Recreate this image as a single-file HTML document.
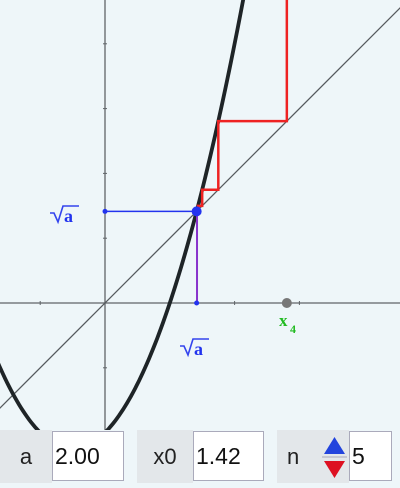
<!DOCTYPE html>
<html><head><meta charset="utf-8"><style>
body{margin:0;width:400px;height:488px;background:#eef6f9;overflow:hidden;font-family:"Liberation Sans",sans-serif;position:relative}
svg{position:absolute;left:0;top:0}
.lbl{position:absolute;top:430px;height:53px;background:#e3e7ea;font-size:22px;color:#222;display:flex;align-items:center;justify-content:center}
.inp{position:absolute;top:431px;height:50px;background:#fff;border:1px solid #aab;box-sizing:border-box;font-size:23px;color:#111;display:flex;align-items:center;padding-left:2px}
</style></head><body>
<svg width="400" height="430" id="chart"></svg>
<div class="lbl" style="left:0;width:52px">a</div>
<div class="inp" style="left:52px;width:72px">2.00</div>
<div class="lbl" style="left:137px;width:56px">x0</div>
<div class="inp" style="left:193px;width:71px">1.42</div>
<div class="lbl" style="left:277px;width:72px;justify-content:flex-start;padding-left:10px;box-sizing:border-box">n</div>
<svg style="left:320px;top:432px" width="29" height="50">
<rect x="0" y="0" width="29" height="50" fill="#e3e7ea"/>
<polygon points="4,22 25,22 14.5,5" fill="#2244dd"/>
<line x1="2" y1="25" x2="27" y2="25" stroke="#aab"/>
<polygon points="4,29 25,29 14.5,46" fill="#dd1122"/>
</svg>
<div class="inp" style="left:349px;width:43px">5</div>
<script>
const a=2.0, x0=1.42, n=5;
const xTicks=[-1,2,3], yTicks=[1,2,3,4,-1];
const S=64.8, OX=105, OY=303;
const X=v=>OX+v*S, Y=v=>OY-v*S;
const f=x=>x*x+x-a;
const svg=document.getElementById('chart');
const NS='http://www.w3.org/2000/svg';
function el(t,at){const e=document.createElementNS(NS,t);for(const k in at)e.setAttribute(k,at[k]);svg.appendChild(e);return e;}
let e;
e=el('line',{x1:0,y1:OY,x2:400,y2:OY,stroke:'#606468','stroke-width':1.3});


e=el('line',{x1:OX,y1:0,x2:OX,y2:430,stroke:'#606468','stroke-width':1.3});


xTicks.forEach(t=>{e=el('line',{x1:X(t),y1:OY-2,x2:X(t),y2:OY+2,stroke:'#606468'});

});
yTicks.forEach(t=>{e=el('line',{x1:OX-2,y1:Y(t),x2:OX+2,y2:Y(t),stroke:'#606468'});

});
e=el('line',{x1:X(-2),y1:Y(-2),x2:X(5),y2:Y(5),stroke:'#555a5e','stroke-width':1.3});


let d='';for(let px=-5;px<=405;px+=2){const x=(px-OX)/S;d+=(d?'L':'M')+px+','+Y(f(x)).toFixed(1);}
e=el('path',{d:d,fill:'none',stroke:'#1e2427','stroke-width':3.8});


const r=Math.sqrt(a);
e=el('line',{x1:OX,y1:Y(r),x2:X(r),y2:Y(r),stroke:'#2233ee','stroke-width':1.5});


e=el('circle',{cx:OX,cy:Y(r),r:2.5,fill:'#2233ee'});


e=el('line',{x1:X(x0),y1:OY,x2:X(x0),y2:Y(f(x0)),stroke:'#8833cc','stroke-width':2});


e=el('circle',{cx:X(r),cy:OY,r:2.5,fill:'#2233ee'});


let xs=[x0];for(let i=0;i<n;i++)xs.push(f(xs[i]));
let p='M'+X(xs[0])+','+Y(xs[1]);
for(let i=1;i<n;i++){p+='L'+X(xs[i])+','+Y(xs[i])+'L'+X(xs[i])+','+Y(xs[i+1]);}
e=el('path',{d:p,fill:'none',stroke:'#ee2222','stroke-width':2.5});


e=el('circle',{cx:X(r),cy:Y(r),r:5,fill:'#2233ee'});


e=el('circle',{cx:X(xs[n-1]),cy:OY,r:5,fill:'#777'});


function sq(x,y,name){const g=document.createElementNS(NS,'g');svg.appendChild(g);


const pl=document.createElementNS(NS,'polyline');pl.setAttribute('points',`${x},${y-7} ${x+4},${y-7} ${x+8},${y+2} ${x+13},${y-14} ${x+29},${y-14}`);pl.setAttribute('fill','none');pl.setAttribute('stroke','#3344ee');pl.setAttribute('stroke-width','1.6');g.appendChild(pl);
const t=document.createElementNS(NS,'text');t.setAttribute('x',x+14);t.setAttribute('y',y+2);t.setAttribute('font-family','Liberation Serif, serif');t.setAttribute('font-weight','bold');t.setAttribute('font-size','18');t.setAttribute('fill','#2233ee');t.textContent='a';g.appendChild(t);}
sq(50,220,'y-sqrt-a-label');
sq(180,353,'x-sqrt-a-label');
e=el('text',{x:279,y:326,'font-family':'Liberation Serif, serif','font-weight':'bold','font-size':17,fill:'#22bb22'});
e.textContent='x';


e=el('text',{x:290,y:333,'font-family':'Liberation Serif, serif','font-weight':'bold','font-size':12,fill:'#22bb22'});
e.textContent='4';


</script>
</body></html>
